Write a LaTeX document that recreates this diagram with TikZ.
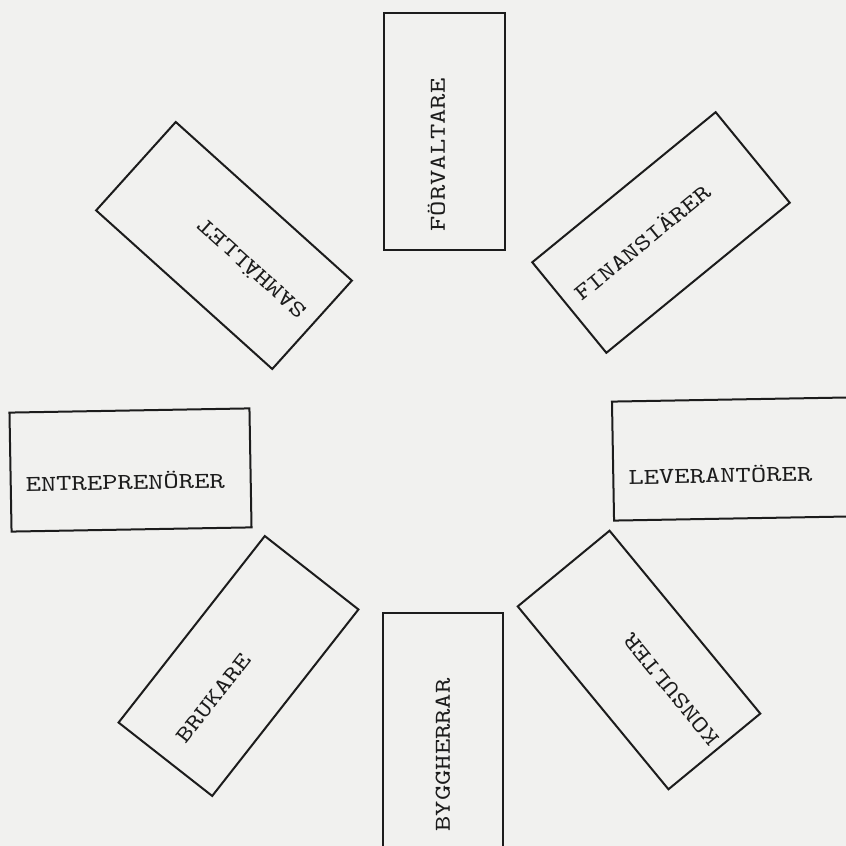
\documentclass[tikz,border=0pt]{standalone}
\usepackage{fontspec}
\newfontfamily\typefont{lmmono10-regular.otf}[FakeStretch=1.28]
\usetikzlibrary{calc, positioning}
\definecolor{paper}{RGB}{241,241,239}
\definecolor{ink}{RGB}{28,28,28}

\begin{document}
\begin{tikzpicture}[x=0.5pt, y=0.5pt,
  card/.style={draw=ink, line width=1pt, inner sep=0pt, outer sep=0pt,
    minimum width=118.5pt, minimum height=59.5pt},
  word/.style={text=ink, inner sep=0pt, font=\typefont\fontsize{11.4}{14}\selectfont}]

\clip (0,0) rectangle (846,846);
\fill[paper] (0,0) rectangle (846,846);

% centres of the cards
\coordinate (F) at (444.5,714.5);
\coordinate (N) at (661,613.5);
\coordinate (L) at (733,387);
\coordinate (K) at (639,186);
\coordinate (B) at (443,114);
\coordinate (U) at (238.5,180);
\coordinate (E) at (130.5,376);
\coordinate (S) at (224,600.5);

\node[card, rotate=90, minimum height=60.5pt] (forvaltare) at (F) {};
\node[card, rotate=39.3, minimum height=58.5pt] (finansiarer) at (N) {};
\node[card, rotate=1, minimum width=120pt] (leverantorer) at (L) {};
\node[card, rotate=129.5] (konsulter) at (K) {};
\node[card, rotate=90, minimum width=119pt, minimum height=60pt] (byggherrar) at (B) {};
\node[card, rotate=51.9] (brukare) at (U) {};
\node[card, rotate=1, minimum width=120pt] (entreprenorer) at (E) {};
\node[card, rotate=138] (samhallet) at (S) {};

% texts, typed a little off centre
\node[word, rotate=90] (forvaltare text) at ($(forvaltare.center)+(90:-23.5)+(180:8)$) {FÖRVALTARE};
\node[word, rotate=39.3] (finansiarer text) at ($(finansiarer.center)+(39.3:-21)+(129.3:5)$) {FINANSIÄRER};
\node[word, rotate=1] (leverantorer text) at ($(leverantorer.center)+(1:-13)+(91:-15)$) {LEVERANTÖRER};
\node[word, rotate=129.5] (konsulter text) at ($(konsulter.center)+(129.5:-43)+(219.5:-6)$) {KONSULTER};
\node[word, rotate=90] (byggherrar text) at ($(byggherrar.center)+(90:-23)$) {BYGGHERRAR};
\node[word, rotate=51.9] (brukare text) at ($(brukare.center)+(51.9:-41)$) {BRUKARE};
\node[word, rotate=1] (entreprenorer text) at ($(entreprenorer.center)+(1:-5.5)+(91:-11)$) {ENTREPRENÖRER};
\node[word, rotate=138] (samhallet text) at ($(samhallet.center)+(138:-36)$) {SAMHÄLLET};
\end{tikzpicture}
\end{document}
